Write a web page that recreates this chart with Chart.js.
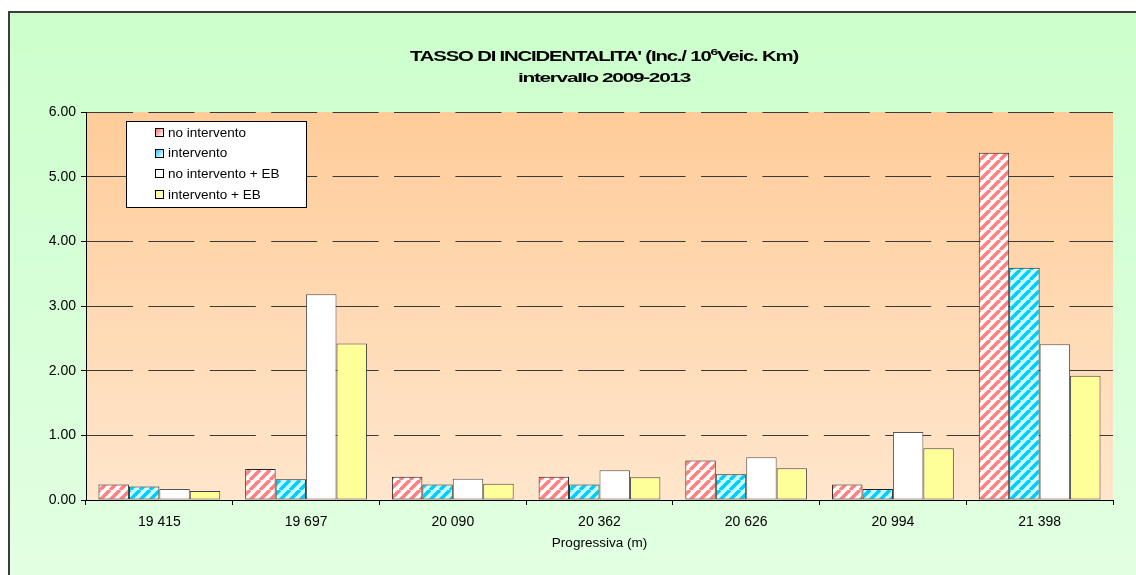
<!DOCTYPE html>
<html>
<head>
<meta charset="utf-8">
<script src="https://cdn.jsdelivr.net/npm/chart.js@4/dist/chart.umd.min.js"></script>
<style>
  html, body { margin: 0; padding: 0; background: #fff; }
  #wrap { position: relative; width: 1136px; height: 575px; }
</style>
</head>
<body>
<div id="wrap"><canvas id="c" width="1136" height="575"></canvas></div>
<script>
// Progressive (m) along the road
const categories = ['19 415', '19 697', '20 090', '20 362', '20 626', '20 994', '21 398'];
// Accident rate (Inc./10^6 veic. km) per scenario
const noIntervento   = [0.24, 0.48, 0.36, 0.36, 0.61, 0.24, 5.37];
const intervento     = [0.21, 0.32, 0.24, 0.24, 0.40, 0.17, 3.59];
const noInterventoEB = [0.17, 3.18, 0.33, 0.46, 0.66, 1.05, 2.41];
const interventoEB   = [0.14, 2.42, 0.25, 0.35, 0.49, 0.80, 1.92];
const seriesNames = ['no intervento', 'intervento', 'no intervento + EB', 'intervento + EB'];
const yMin = 0, yMax = 6, yStep = 1;

const FONT = '"Liberation Sans", Arial, sans-serif';
const canvas = document.getElementById('c');
const ctx = canvas.getContext('2d');

// Diagonal hatch fill ('/' stripes)
function stripes(bg, fg, size, width) {
  const c = document.createElement('canvas');
  c.width = c.height = size;
  const g = c.getContext('2d');
  g.fillStyle = bg;
  g.fillRect(0, 0, size, size);
  g.strokeStyle = fg;
  g.lineWidth = width;
  g.beginPath();
  for (let k = -1; k <= 1; k++) {
    g.moveTo(k * size, size);
    g.lineTo(k * size + size, 0);
  }
  g.stroke();
  return ctx.createPattern(c, 'repeat');
}

const redHatch = stripes('#ffffff', '#ff8080', 10, 3.6);
const blueHatch = stripes('#ccffff', '#00ccff', 10, 3.6);

// Frame, panel and plot-area backgrounds
const backgroundPlugin = {
  id: 'panelBackground',
  beforeDraw(chart) {
    const c = chart.ctx;
    const { left, top, right, bottom } = chart.chartArea;
    c.save();
    c.fillStyle = '#ffffff';
    c.fillRect(0, 0, chart.width, chart.height);
    const pg = c.createLinearGradient(0, 11, 0, chart.height);
    pg.addColorStop(0, '#ccffcc');
    pg.addColorStop(1, '#e2ffe2');
    c.fillStyle = pg;
    c.fillRect(8, 11, chart.width - 8, chart.height - 11);
    c.strokeStyle = '#3c3c3c';
    c.lineWidth = 2;
    c.beginPath();
    c.moveTo(9, chart.height);
    c.lineTo(9, 12);
    c.lineTo(chart.width, 12);
    c.stroke();
    const ag = c.createLinearGradient(0, top, 0, bottom);
    ag.addColorStop(0, '#ffcc99');
    ag.addColorStop(1, '#ffe6cc');
    c.fillStyle = ag;
    c.fillRect(left, top, right - left, bottom - top);
    c.restore();
  }
};

// Heavy, tightly set heading text: each run is drawn with negative tracking
// and a horizontal stretch so the whole line spans the requested width.
function headingLine(c, runs, cx, baseline, targetWidth) {
  c.save();
  c.letterSpacing = '-0.8px';
  const widths = runs.map(r => { c.font = r.font; return c.measureText(r.text).width; });
  const total = widths.reduce((a, b) => a + b, 0);
  const sx = targetWidth / total;
  let x = cx - targetWidth / 2;
  runs.forEach((r, i) => {
    c.font = r.font;
    c.save();
    c.translate(x, baseline - (r.rise || 0));
    c.scale(sx, 1);
    c.fillText(r.text, 0, 0);
    c.restore();
    x += widths[i] * sx;
  });
  c.restore();
}

// Title with superscript exponent, plus the boxed legend
const titleLegendPlugin = {
  id: 'titleLegend',
  afterDraw(chart) {
    const c = chart.ctx;
    const cx = 604;
    c.save();
    c.fillStyle = '#000';
    c.textBaseline = 'alphabetic';
    c.textAlign = 'left';
    const big = 'bold 14px ' + FONT;
    headingLine(c, [
      { text: "TASSO DI INCIDENTALITA' (Inc./ 10", font: big },
      { text: '6', font: 'bold 9.5px ' + FONT, rise: 6 },
      { text: 'Veic. Km)', font: big }
    ], cx, 61, 388);
    headingLine(c, [
      { text: 'intervallo 2009-2013', font: 'bold 12.5px ' + FONT }
    ], cx, 82, 172);

    // legend
    const bx = 126, by = 121, bw = 180, bh = 86;
    c.fillStyle = '#ffffff';
    c.fillRect(bx, by, bw, bh);
    c.strokeStyle = '#000';
    c.lineWidth = 1;
    c.strokeRect(bx + 0.5, by + 0.5, bw, bh);
    const markerFill = [
      ['#ff5a5a', '#ffffff'],
      ['#00bbff', '#ffffff'],
      ['#ffffff', '#ffffff'],
      ['#ffff88', '#ffffcc']
    ];
    c.font = '13.5px ' + FONT;
    c.textAlign = 'left';
    c.textBaseline = 'middle';
    chart.data.datasets.forEach((ds, i) => {
      const ry = 132 + i * 20.6;
      const mx = 155, my = Math.round(ry - 4);
      const g = c.createLinearGradient(mx, my, mx + 8, my + 8);
      g.addColorStop(0, markerFill[i][0]);
      g.addColorStop(1, markerFill[i][1]);
      c.fillStyle = g;
      c.fillRect(mx, my, 8, 8);
      c.strokeStyle = '#000';
      c.strokeRect(mx + 0.5, my + 0.5, 8, 8);
      c.fillStyle = '#000';
      c.fillText(ds.label, 168, ry + 1);
    });
    c.restore();
  }
};

const bar = (label, data, fill, border) => ({
  label, data,
  backgroundColor: fill,
  borderColor: border,
  borderWidth: 1,
  borderSkipped: false,
  barPercentage: 1,
  categoryPercentage: 0.83
});

new Chart(canvas, {
  type: 'bar',
  data: {
    labels: categories,
    datasets: [
      bar(seriesNames[0], noIntervento, redHatch, '#222'),
      bar(seriesNames[1], intervento, blueHatch, '#222'),
      bar(seriesNames[2], noInterventoEB, '#ffffff', '#555'),
      bar(seriesNames[3], interventoEB, '#ffff99', '#444')
    ]
  },
  options: {
    responsive: false,
    animation: false,
    devicePixelRatio: 1,
    layout: { padding: { left: 0, top: 112, right: 23, bottom: 0 } },
    plugins: {
      legend: { display: false },
      title: { display: false },
      tooltip: { enabled: false }
    },
    scales: {
      x: {
        grid: { offset: true, drawOnChartArea: false, drawTicks: true, tickLength: 5, color: '#000' },
        border: { display: true, color: '#000', width: 1 },
        ticks: { color: '#000', font: { family: FONT, size: 14 }, padding: 9, maxRotation: 0 },
        title: { display: true, text: 'Progressiva (m)', color: '#000', font: { family: FONT, size: 13.5 }, padding: { top: 0, bottom: 24 } },
        afterFit(scale) { scale.height = 75; }
      },
      y: {
        min: yMin, max: yMax,
        ticks: { stepSize: yStep, color: '#000', font: { family: FONT, size: 14 }, padding: 5,
                 callback: v => Number(v).toFixed(2) },
        grid: { color: '#3a3a3a', lineWidth: 1, tickLength: 5, tickColor: '#000' },
        border: { display: true, color: '#000', width: 1, dash: [46, 15.4] },
        afterFit(scale) { scale.width = 86; }
      }
    }
  },
  plugins: [backgroundPlugin, titleLegendPlugin]
});
</script>
</body>
</html>
